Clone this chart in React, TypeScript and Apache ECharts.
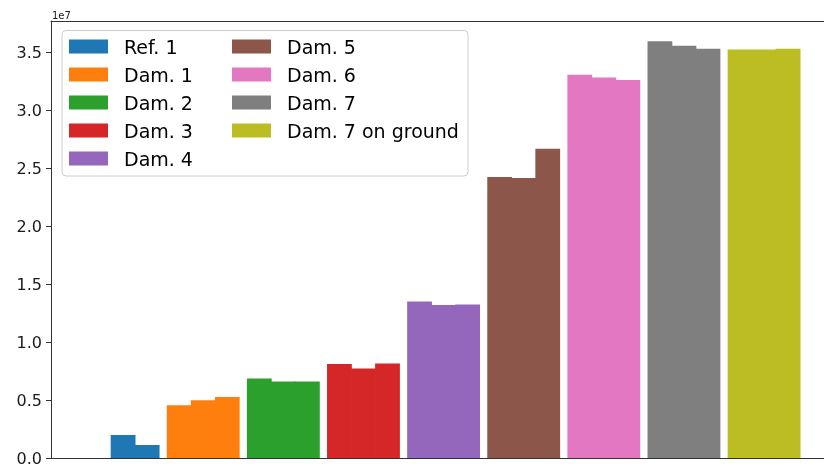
import React, { useEffect, useRef } from "react";
import * as echarts from "echarts";

// Group names, in legend order
const groupNames = [
  "Ref. 1",
  "Dam. 1",
  "Dam. 2",
  "Dam. 3",
  "Dam. 4",
  "Dam. 5",
  "Dam. 6",
  "Dam. 7",
  "Dam. 7 on ground",
];

// Three measurements per group
const ref1 = [0, 1.98e6, 1.12e6];
const dam1 = [4.55e6, 4.99e6, 5.27e6];
const dam2 = [6.86e6, 6.6e6, 6.6e6];
const dam3 = [8.1e6, 7.73e6, 8.15e6];
const dam4 = [1.351e7, 1.319e7, 1.324e7];
const dam5 = [2.424e7, 2.415e7, 2.668e7];
const dam6 = [3.306e7, 3.283e7, 3.262e7];
const dam7 = [3.595e7, 3.557e7, 3.53e7];
const dam7Ground = [3.524e7, 3.524e7, 3.53e7];

const groupValues = [ref1, dam1, dam2, dam3, dam4, dam5, dam6, dam7, dam7Ground];

const colors = [
  "#1f77b4",
  "#ff7f0e",
  "#2ca02c",
  "#d62728",
  "#9467bd",
  "#8c564b",
  "#e377c2",
  "#7f7f7f",
  "#bcbd22",
];

// y ticks (scaled by 1e7 in the labels)
const yTicks = [0, 0.5e7, 1.0e7, 1.5e7, 2.0e7, 2.5e7, 3.0e7, 3.5e7];

const BAR_STEP = 0.3;
const FONT = "DejaVu Sans";

export default function App() {
  const ref = useRef<HTMLDivElement>(null);

  useEffect(() => {
    if (!ref.current) return;
    const chart = echarts.init(ref.current, null, { renderer: "svg" });

    // Bars slightly wider than their spacing so neighbours in a group join seamlessly
    const series = groupNames.map((name, g) => ({
      name,
      type: "bar",
      barWidth: 24.8,
      barGap: "-100%",
      itemStyle: { color: colors[g] },
      data: groupValues[g].map((v, i) => [g + (i - 1) * BAR_STEP, v]),
    }));

    const legendText = {
      fontFamily: FONT,
      fontSize: 19,
      color: "#000",
      lineHeight: 20,
      padding: [0, 0, 0, 11],
    };

    const legendCommon = {
      orient: "vertical",
      top: 36.5,
      padding: 0,
      itemWidth: 39,
      itemHeight: 14,
      itemGap: 8,
      icon: "rect",
      selectedMode: false,
      textStyle: legendText,
      z: 5,
    };

    chart.setOption({
      animation: false,
      textStyle: { fontFamily: FONT },
      grid: { left: 51, right: 0, top: 21, bottom: 7 },
      xAxis: [
        {
          type: "value",
          min: -0.9,
          max: 8.748,
          axisLine: { show: true, onZero: false, lineStyle: { color: "#333", width: 1 } },
          axisTick: { show: false },
          axisLabel: { show: false },
          splitLine: { show: false },
        },
        {
          type: "value",
          position: "top",
          min: -0.9,
          max: 8.748,
          axisLine: { show: true, onZero: false, lineStyle: { color: "#333", width: 1 } },
          axisTick: { show: false },
          axisLabel: { show: false },
          splitLine: { show: false },
        },
      ],
      yAxis: {
        type: "value",
        min: 0,
        max: 3.77e7,
        axisLine: { show: true, onZero: false, lineStyle: { color: "#333", width: 1 } },
        axisTick: {
          show: true,
          length: 5,
          customValues: yTicks,
          lineStyle: { color: "#333" },
        },
        axisLabel: {
          customValues: yTicks,
          margin: 9,
          fontSize: 16,
          fontFamily: FONT,
          color: "#1a1a1a",
          formatter: (v: number) => (v / 1e7).toFixed(1),
        },
        splitLine: { show: false },
      },
      legend: [
        { ...legendCommon, data: groupNames.slice(0, 5), left: 69 },
        { ...legendCommon, data: groupNames.slice(5), left: 232 },
      ],
      graphic: [
        {
          type: "rect",
          z: 3,
          shape: { x: 62, y: 30.5, width: 406, height: 145.5, r: 4 },
          style: { fill: "rgba(255,255,255,0.8)", stroke: "#cccccc", lineWidth: 1 },
        },
        {
          type: "text",
          x: 52,
          y: 15,
          style: {
            text: "1e7",
            fontFamily: FONT,
            fontSize: 10,
            fill: "#1a1a1a",
            verticalAlign: "middle",
          },
        },
      ],
      series,
    });

    return () => chart.dispose();
  }, []);

  return (
    <div
      ref={ref}
      style={{ position: "fixed", left: 0, top: 0, width: 824, height: 466 }}
    />
  );
}
